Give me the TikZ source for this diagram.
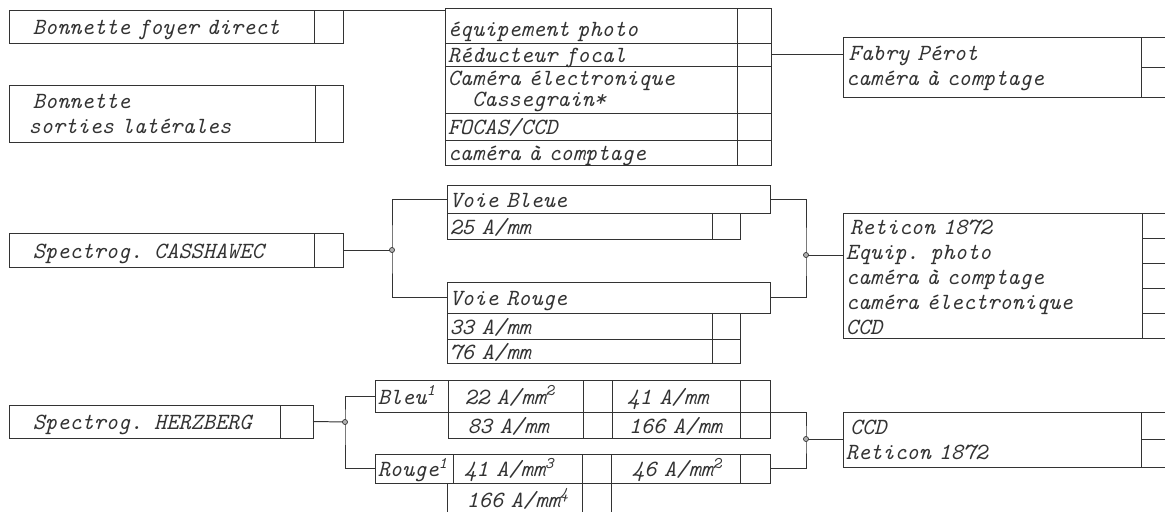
\documentclass[tikz,border=0pt]{standalone}
\usepackage{fontspec}
\usepackage{xcolor}
\usepackage{tikz}
\usetikzlibrary{positioning}

\definecolor{ink}{gray}{0.2}

\tikzset{
  cell/.style n args={3}{draw=ink, line width=0.7pt, anchor=north west, outer sep=0pt,
    inner ysep=0pt, inner xsep=2pt, minimum width=#1*0.025cm, minimum height=#2*0.025cm,
    text width={#1*0.025cm-4pt}, align=left, text=ink, text height=12pt, text depth=0pt,
    execute at begin node={\leavevmode\hspace*{#3}},
    font=\ttfamily\itshape\fontsize{16.5}{17.7}\selectfont},
  multi/.style={text depth=},
  link/.style={draw=ink, line width=0.7pt},
  junction/.style={fill=gray!60, draw=ink, line width=0.5pt}
}

\begin{document}
\begin{tikzpicture}[x=0.025cm, y=-0.025cm]
		\useasboundingbox (0,0) rectangle (1165,512);
		\clip (0,0) rectangle (1165,512);

		% Bonnettes
		\node[cell={305}{33}{15pt}] (foyer) at (9,10) {Bonnette foyer direct};
		\node[cell={29}{33}{0pt}, right=0pt of foyer] (foyer-x) {};
		\node[cell={306}{57}{15pt}, multi, text height=] (lateral) at (9,85) {Bonnette\\\hspace*{12pt}sorties latérales};
		\node[cell={28}{57}{0pt}, right=0pt of lateral] (lateral-x) {};

		% Equipment table
		\node[cell={292}{35}{0pt}, text height=16pt] (equip1) at (445,8) {équipement photo};
		\node[cell={34}{35}{0pt}, right=0pt of equip1] (equip1-x) {};
		\node[cell={292}{23}{0pt}, below=0pt of equip1] (equip2) {Réducteur focal};
		\node[cell={34}{23}{0pt}, right=0pt of equip2] (equip2-x) {};
		\node[cell={292}{47}{0pt}, below=0pt of equip2, multi, text height=13pt] (equip3) {Caméra électronique\\[-2.8pt]\hspace*{1.05em}Cassegrain*};
		\node[cell={34}{47}{0pt}, right=0pt of equip3] (equip3-x) {};
		\node[cell={292}{27}{0pt}, below=0pt of equip3] (equip4) {FOCAS/CCD};
		\node[cell={34}{27}{0pt}, right=0pt of equip4] (equip4-x) {};
		\node[cell={292}{25}{0pt}, below=0pt of equip4] (equip5) {caméra à comptage};
		\node[cell={34}{25}{0pt}, right=0pt of equip5] (equip5-x) {};

		% Fabry Perot
		\node[cell={298}{60}{2pt}, multi] (fabry) at (843,37) {Fabry Pérot\\caméra à comptage};
		\node[cell={40}{30}{0pt}] (fabry-x1) at (fabry.north east) {};
		\node[cell={40}{30}{0pt}] (fabry-x2) at (fabry-x1.south west) {};

		\draw[link] (foyer-x.north east) -- (foyer-x.north east -| equip1.west);
		\draw[link] (equip2-x.east) -- (equip2-x.east -| fabry.west);

		% Spectrog. CASSHAWEC
		\node[cell={305}{34}{15pt}] (cass) at (9,233) {Spectrog. CASSHAWEC};
		\node[cell={29}{34}{0pt}, right=0pt of cass] (cass-x) {};
		\node[cell={323}{28}{0pt}] (voie-bleue) at (447,185) {Voie Bleue};
		\node[cell={265}{26}{0pt}] (bleue1) at (voie-bleue.south west) {25 A/mm};
		\node[cell={28}{26}{0pt}, right=0pt of bleue1] (bleue1-x) {};
		\node[cell={323}{31}{0pt}] (voie-rouge) at (447,282) {Voie Rouge};
		\node[cell={265}{26}{0pt}] (rouge1) at (voie-rouge.south west) {33 A/mm};
		\node[cell={28}{26}{0pt}, right=0pt of rouge1] (rouge1-x) {};
		\node[cell={265}{24}{0pt}, below=0pt of rouge1] (rouge2) {76 A/mm};
		\node[cell={28}{24}{0pt}, right=0pt of rouge2] (rouge2-x) {};

		\node[cell={299}{125}{3pt}, multi, text height=13pt] (reticon) at (843,213) {Reticon 1872\\Equip. photo\\caméra à comptage\\caméra électronique\\CCD};
		\foreach \i in {0,...,4}
			\node[cell={40}{25}{0pt}] (reticon-x\i) at (1142,213+25*\i) {};

		\coordinate (cass-split) at (392,250);
		\coordinate (cass-join) at (806,255);
		\draw[link] (cass-x.east) -- (cass-split);
		\draw[link] (voie-bleue.west) -| (cass-split) |- (voie-rouge.west);
		\draw[link] (voie-bleue.east) -| (cass-join) |- (voie-rouge.east);
		\draw[link] (cass-join) -- (cass-join -| reticon.west);
		\filldraw[junction] (cass-split) circle (1.8pt);
		\filldraw[junction] (cass-join) circle (1.8pt);

		% Spectrog. HERZBERG
		\node[cell={271}{33}{15pt}] (herz) at (9,405) {Spectrog. HERZBERG};
		\node[cell={33}{33}{0pt}, right=0pt of herz] (herz-x) {};

		\node[cell={73}{32}{0pt}] (herz-bleu) at (375,380) {Bleu\textsuperscript{1}};
		\node[cell={135}{32}{10pt}, right=0pt of herz-bleu] (bleu11) {22 A/mm\textsuperscript{2}};
		\node[cell={29}{32}{0pt}, right=0pt of bleu11] (bleu11-x) {};
		\node[cell={128}{32}{9pt}, right=0pt of bleu11-x] (bleu12) {41 A/mm};
		\node[cell={30}{32}{0pt}, right=0pt of bleu12] (bleu12-x) {};
		\node[cell={135}{26}{12pt}] (bleu21) at (bleu11.south west) {83 A/mm};
		\node[cell={29}{26}{0pt}, right=0pt of bleu21] (bleu21-x) {};
		\node[cell={128}{26}{10pt}, right=0pt of bleu21-x] (bleu22) {166 A/mm};
		\node[cell={30}{26}{0pt}, right=0pt of bleu22] (bleu22-x) {};

		\node[cell={78}{29}{0pt}] (herz-rouge) at (375,454) {Rouge\textsuperscript{1}};
		\node[cell={129}{29}{6pt}, right=0pt of herz-rouge] (rouge11) {41 A/mm\textsuperscript{3}};
		\node[cell={29}{29}{0pt}, right=0pt of rouge11] (rouge11-x) {};
		\node[cell={129}{29}{13pt}, right=0pt of rouge11-x] (rouge12) {46 A/mm\textsuperscript{2}};
		\node[cell={30}{29}{0pt}, right=0pt of rouge12] (rouge12-x) {};
		\node[cell={135}{32}{12pt}] (rouge21) at (447,483) {166 A/mm\textsuperscript{4}};
		\node[cell={29}{32}{0pt}, right=0pt of rouge21] (rouge21-x) {};

		\node[cell={298}{55}{3pt}, multi, text height=] (ccd) at (843,412) {CCD\\Reticon 1872};
		\node[cell={40}{27}{0pt}] (ccd-x1) at (ccd.north east) {};
		\node[cell={40}{28}{0pt}] (ccd-x2) at (ccd-x1.south west) {};

		\coordinate (herz-split) at (345,422);
		\coordinate (herz-join) at (806,439);
		\draw[link] (herz-x.east) -- (herz-split);
		\draw[link] (herz-bleu.west) -| (herz-split) |- (herz-rouge.west);
		\draw[link] (bleu12-x.south east) -| (herz-join) |- (rouge12-x.east);
		\draw[link] (herz-join) -- (herz-join -| ccd.west);
		\filldraw[junction] (herz-split) circle (1.8pt);
		\filldraw[junction] (herz-join) circle (1.8pt);
	\end{tikzpicture}
\end{document}
